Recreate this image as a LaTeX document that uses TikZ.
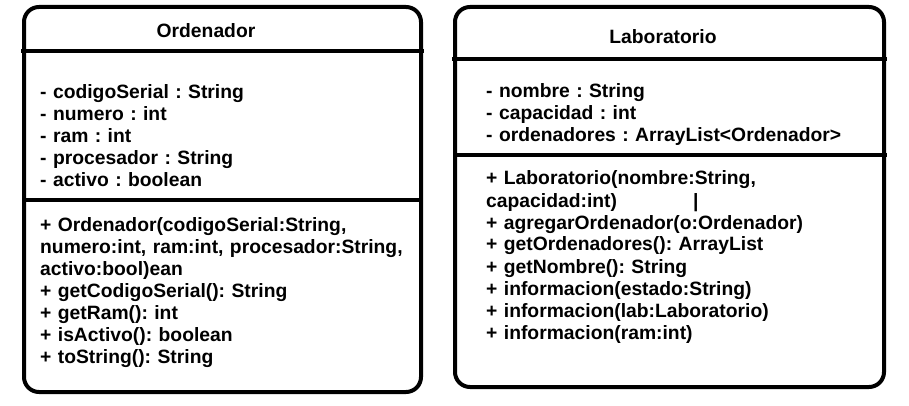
\documentclass[tikz,border=0pt]{standalone}
\usepackage{fontspec}
\setmainfont{Liberation Sans}
\frenchspacing

\tikzset{
  frame/.style={line width=4pt,rounded corners=15pt},
  sep/.style={line width=4pt},
  classname/.style={font=\fontsize{19.3}{22}\selectfont\bfseries,anchor=base,inner sep=0pt},
  members/.style={font=\fontsize{19.3}{22}\selectfont\bfseries,anchor=base west,inner sep=0pt,
    text width=400pt,align=left}
}

\begin{document}
\begin{tikzpicture}[x=1pt,y=-1pt]
        \useasboundingbox (0,0) rectangle (909,406);

        \draw[frame] (24,7) rectangle (421,392);
        \draw[sep] (21,51) -- (424,51);
        \draw[sep] (24,200) -- (421,200);

        \node[classname] (ordName) at (206,38) {Ordenador};
        \node[members] (ordAttrs) at (40,99) {- codigoSerial : String\\- numero : int\\- ram : int\\- procesador : String\\- activo : boolean};
        \node[members] (ordOps) at (40,231) {+ Ordenador(codigoSerial:String,\\numero:int, ram:int, procesador:String,\\activo:bool)ean\\+ getCodigoSerial(): String\\+ getRam(): int\\+ isActivo(): boolean\\+ toString(): String};

        \draw[frame] (455,7) rectangle (884,387);
        \draw[sep] (452,59) -- (887,59);
        \draw[sep] (455,155) -- (887,155);

        \node[classname] (labName) at (663,44) {Laboratorio};
        \node[members] (labAttrs) at (486,98) {- nombre : String\\- capacidad : int\\- ordenadores : ArrayList<Ordenador>};
        \node[members] (labOps) at (486,185) {+ Laboratorio(nombre:String,\\capacidad:int)\hspace*{76pt}|\\+ agregarOrdenador(o:Ordenador)\\+ getOrdenadores(): ArrayList\\+ getNombre(): String\\+ informacion(estado:String)\\+ informacion(lab:Laboratorio)\\+ informacion(ram:int)};
\end{tikzpicture}
\end{document}
